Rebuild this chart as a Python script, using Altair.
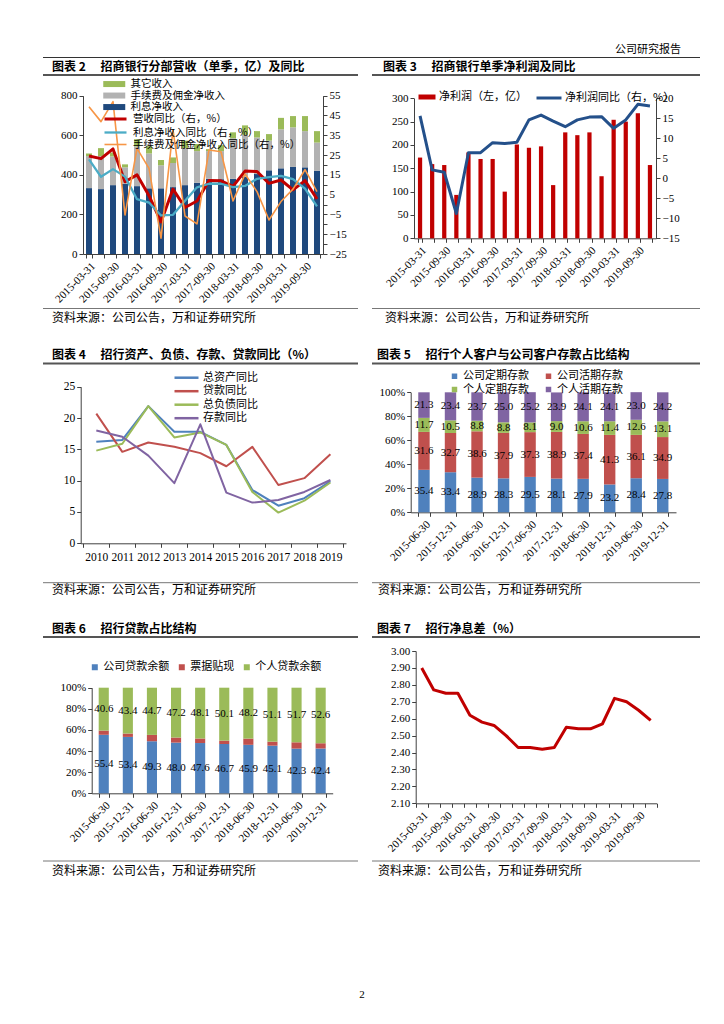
import altair as alt
import pandas as pd

W, H = 708, 1008
SERIF = "Liberation Serif, Noto Sans CJK SC"
CJK = "Noto Sans CJK SC, Liberation Serif"
AX = "#404040"

# ---------------- categories ----------------
quarters = ["2015-03-31", "2015-06-30", "2015-09-30", "2015-12-31",
            "2016-03-31", "2016-06-30", "2016-09-30", "2016-12-31",
            "2017-03-31", "2017-06-30", "2017-09-30", "2017-12-31",
            "2018-03-31", "2018-06-30", "2018-09-30", "2018-12-31",
            "2019-03-31", "2019-06-30", "2019-09-30", "2019-12-31"]
halfyears = ["2015-06-30", "2015-12-31", "2016-06-30", "2016-12-31", "2017-06-30",
             "2017-12-31", "2018-06-30", "2018-12-31", "2019-06-30", "2019-12-31"]
years = ["2010", "2011", "2012", "2013", "2014", "2015", "2016", "2017", "2018", "2019"]

# ---------------- chart 2 ----------------
interest = [333, 328, 348, 355, 343, 332, 332, 338, 348, 360, 380, 378, 380, 390, 404, 423, 433, 440, 438, 420]
fee = [162, 167, 145, 83, 200, 176, 116, 122, 187, 160, 140, 142, 205, 212, 185, 150, 197, 200, 183, 143]
other = [13, 40, 20, 15, 37, 37, 27, 28, 38, 36, 10, 30, 30, 48, 32, 33, 58, 57, 76, 58]
rev_yoy = [24.5, 23.2, 28.1, 11.5, 15.0, 4.5, -8.8, 7.8, -1.5, 1.8, 12.2, 12.0, 9.2, 16.9, 16.7, 10.7, 12.4, 7.4, 12.1, 2.8]
nii_yoy = [22.8, 14.0, 17.9, 14.1, 2.7, 1.0, -5.5, -5.2, 1.9, 8.7, 10.5, 10.5, 8.8, 9.4, 13.0, 13.8, 14.5, 12.8, 8.0, -0.9]
fee_yoy = [49.4, 41.9, 52.0, -5.3, 28.4, 18.3, -17.0, 37.7, -5.8, -9.8, 27.6, 26.7, 1.8, 15.4, 6.5, -7.8, 1.5, 7.8, 17.6, 6.5]
bar2_names = ["利息净收入", "手续费及佣金净收入", "其它收入"]
line2_names = ["营收同比（右，%）", "利息净收入同比（右，%）", "手续费及佣金净收入同比（右，%）"]

# ---------------- chart 3 ----------------
net_profit = [173, 159, 157, 93, 184, 170, 170, 100, 201, 194, 197, 114, 227, 221, 227, 133, 254, 250, 268, 157]
np_yoy = [15.6, 2.1, 1.5, -8.8, 6.4, 6.4, 8.9, 8.7, 9.0, 14.6, 15.8, 14.3, 12.9, 14.6, 15.3, 15.4, 12.5, 14.6, 18.5, 18.1]

# ---------------- chart 4 ----------------
asset_yoy = [16.2, 16.5, 21.9, 17.8, 17.8, 15.7, 8.5, 6.0, 7.2, 9.9]
loan_yoy = [20.7, 14.6, 16.1, 15.4, 14.4, 12.3, 15.4, 9.3, 10.4, 14.2]
liab_yoy = [14.8, 15.9, 21.9, 16.9, 17.7, 15.7, 8.2, 4.9, 6.8, 9.7]
dep_yoy = [18.0, 17.0, 14.0, 9.6, 19.0, 8.1, 6.5, 6.9, 8.2, 10.1]
line4_names = ["总资产同比", "贷款同比", "总负债同比", "存款同比"]

# ---------------- chart 5 ----------------
corp_time = [35.4, 33.4, 28.9, 28.3, 29.5, 28.1, 27.9, 23.2, 28.4, 27.8]
corp_demand = [31.6, 32.7, 38.6, 37.9, 37.3, 38.9, 37.4, 41.3, 36.1, 34.9]
pers_time = [11.7, 10.5, 8.8, 8.8, 8.1, 9.0, 10.6, 11.4, 12.6, 13.1]
pers_demand = [21.3, 23.4, 23.7, 25.0, 25.2, 23.9, 24.1, 24.1, 23.0, 24.2]
dep_names = ["公司定期存款", "公司活期存款", "个人定期存款", "个人活期存款"]
dep_colors = {"公司定期存款": "#4F81BD", "公司活期存款": "#C0504D",
              "个人定期存款": "#9BBB59", "个人活期存款": "#8064A2"}
dep_legend_order = ["公司定期存款", "个人定期存款", "公司活期存款", "个人活期存款"]

# ---------------- chart 6 ----------------
corp_loan = [55.4, 53.4, 49.3, 48.0, 47.6, 46.7, 45.9, 45.1, 42.3, 42.4]
bill_disc = [4.0, 3.2, 6.0, 4.8, 4.3, 3.2, 5.9, 3.8, 6.0, 5.0]
pers_loan = [40.6, 43.4, 44.7, 47.2, 48.1, 50.1, 48.2, 51.1, 51.7, 52.6]
loan_names = ["公司贷款余额", "票据贴现", "个人贷款余额"]

# ---------------- chart 7 ----------------
nim = [2.90, 2.77, 2.75, 2.75, 2.62, 2.58, 2.56, 2.50, 2.43, 2.43,
       2.42, 2.43, 2.55, 2.54, 2.54, 2.57, 2.72, 2.70, 2.65, 2.59]


# ---------------- helpers ----------------
def long_df(cats, names, series_list):
    rows = []
    for k, (n, vals) in enumerate(zip(names, series_list)):
        for c, v in zip(cats, vals):
            rows.append({"cat": c, "series": n, "value": v, "k": k})
    return pd.DataFrame(rows)


def stacked_mid(df):
    df = df.sort_values(["cat", "k"]).copy()
    df["end"] = df.groupby("cat")["value"].cumsum()
    df["mid"] = df["end"] - df["value"] / 2
    return df


def bottom_axis(y, angle=-45, expr=None, size=11, pad=2):
    kw = dict(orient="bottom", offset=y - H, labelAngle=angle, tickBand="extent",
              title=None, labelOverlap=False, labelFontSize=size, labelPadding=pad)
    if expr:
        kw["labelExpr"] = expr
    return alt.Axis(**kw)


def left_axis(x, values, expr=None, size=11, fmt=None):
    kw = dict(orient="left", offset=-x, values=values, title=None, labelFontSize=size)
    if expr:
        kw["labelExpr"] = expr
    if fmt:
        kw["format"] = fmt
    return alt.Axis(**kw)


def right_axis(x, values, size=11):
    return alt.Axis(orient="right", offset=x - W, values=values, title=None, labelFontSize=size)


ONE = alt.Data(values=[{}])


def hrule(x1, x2, y, color="#555555", w=1.0):
    return alt.Chart(ONE).mark_rule(color=color, strokeWidth=w).encode(
        x=alt.value(x1), x2=alt.value(x2), y=alt.value(y))


def label(t, x, y, size=12, weight="normal", align="left", font=CJK):
    return alt.Chart(ONE).mark_text(text=t, align=align, baseline="middle", fontSize=size,
                                    fontWeight=weight, font=font, color="#000000").encode(
        x=alt.value(x), y=alt.value(y))


def rect_sym(w, h, r=5):
    # wide legend swatch: starts at left edge of a 2r symbol cell
    return f"M-1,{-h / (2 * r):.3f}H{(w / r) - 1:.3f}V{h / (2 * r):.3f}H-1Z"


def line_sym(w, r=5):
    return f"M-1,0H{(w / r) - 1:.3f}"


q_expr = "indexof(['03-31','09-30'], substring(datum.value, 5, 10)) >= 0 ? datum.label : ''"

layers = []

# ---------------- page decorations ----------------
layers.append(label("公司研究报告", 673, 42, size=11, align="right"))
layers.append(hrule(35, 692, 49.5, "#333333", 1.2))
GAP = "\u3000 "
titles = [("图表 2" + GAP + "招商银行分部营收（单季，亿）及同比", 44, 59),
          ("图表 3" + GAP + "招商银行单季净利润及同比", 375, 59),
          ("图表 4" + GAP + "招行资产、负债、存款、贷款同比（%）", 44, 347),
          ("图表 5" + GAP + "招行个人客户与公司客户存款占比结构", 369, 347),
          ("图表 6" + GAP + "招行贷款占比结构", 44, 621),
          ("图表 7" + GAP + "招行净息差（%）", 369, 621)]
for t, x, y in titles:
    layers.append(label(t, x, y, size=12, weight="bold"))
for y in [67, 355.5, 629]:
    layers.append(hrule(35, 350, y, "#555555", 1.8))
    layers.append(hrule(364, 692, y, "#555555", 1.8))
for y in [300.5, 574.7, 853]:
    layers.append(hrule(35, 350, y, "#777777", 1.0))
    layers.append(hrule(364, 692, y, "#777777", 1.0))
src = "资料来源：公司公告，万和证券研究所"
for x, y in [(44, 310), (377, 310), (44, 582), (370, 582), (44, 863), (370, 863)]:
    layers.append(label(src, x, y, size=12))
layers.append(label("2", 354, 987, size=11, align="center", font=SERIF))

# ---------------- chart 2 ----------------
df2b = long_df(quarters, bar2_names, [interest, fee, other])
df2l = long_df(quarters, line2_names, [rev_yoy, nii_yoy, fee_yoy])
x2 = alt.Scale(domain=quarters, range=[75, 315], paddingInner=0.5, paddingOuter=0.25)
layers.append(alt.Chart(df2b).mark_bar().encode(
    x=alt.X("cat:N", scale=x2, axis=bottom_axis(246, expr=q_expr)),
    y=alt.Y("value:Q", stack="zero",
            scale=alt.Scale(domain=[0, 800], range=[246, 87.7], nice=False),
            axis=left_axis(75, [0, 200, 400, 600, 800])),
    color=alt.Color("series:N",
                    scale=alt.Scale(domain=["其它收入", "手续费及佣金净收入", "利息净收入"],
                                    range=["#9BBB59", "#B2B2B2", "#1F497D"]),
                    legend=alt.Legend(orient="none", legendX=95, legendY=70.8, title=None,
                                      symbolType=rect_sym(22, 6), symbolSize=100, symbolStrokeWidth=0,
                                      labelFontSize=10.5, rowPadding=0.5, labelOffset=17,
                                      labelLimit=300)),
    order=alt.Order("k:Q")))
layers.append(alt.Chart(df2l).mark_line(strokeJoin="round").encode(
    x=alt.X("cat:N", scale=x2, axis=None),
    y=alt.Y("value:Q", scale=alt.Scale(domain=[-25, 55], range=[246, 87.7], nice=False, zero=False),
            axis=right_axis(315, list(range(-25, 56, 5)))),
    color=alt.Color("series:N",
                    scale=alt.Scale(domain=line2_names, range=["#C00000", "#4BACC6", "#F79646"]),
                    legend=alt.Legend(orient="none", legendX=95, legendY=104.5, title=None,
                                      symbolType=line_sym(22), symbolSize=100, symbolStrokeWidth=2.5,
                                      labelFontSize=10.5, rowPadding=0.5, labelOffset=17,
                                      labelLimit=300)),
    strokeWidth=alt.StrokeWidth("series:N",
                                scale=alt.Scale(domain=line2_names, range=[3, 1.6, 2.2]),
                                legend=None)))

# ---------------- chart 3 ----------------
df3b = pd.DataFrame({"cat": quarters, "value": net_profit, "series": "净利润（左，亿）"})
df3l = pd.DataFrame({"cat": quarters, "value": np_yoy, "series": "净利润同比（右，%）"})
x3 = alt.Scale(domain=quarters, range=[406, 648], paddingInner=0.65, paddingOuter=0.325)
layers.append(alt.Chart(df3b).mark_bar().encode(
    x=alt.X("cat:N", scale=x3, axis=bottom_axis(230.3, expr=q_expr)),
    y=alt.Y("value:Q", scale=alt.Scale(domain=[0, 300], range=[230.3, 90.3], nice=False),
            axis=left_axis(406, [0, 50, 100, 150, 200, 250, 300])),
    color=alt.Color("series:N", scale=alt.Scale(domain=["净利润（左，亿）"], range=["#C00000"]),
                    legend=alt.Legend(orient="none", legendX=410, legendY=83.5, title=None,
                                      symbolType=rect_sym(17, 5), symbolSize=100,
                                      symbolStrokeWidth=0, labelFontSize=11, labelOffset=10,
                                      labelLimit=300))))
layers.append(alt.Chart(df3l).mark_line(strokeWidth=3, strokeJoin="round").encode(
    x=alt.X("cat:N", scale=x3, axis=None),
    y=alt.Y("value:Q", scale=alt.Scale(domain=[-15, 20], range=[230.3, 90.3], nice=False, zero=False),
            axis=right_axis(648, list(range(-15, 21, 5)))),
    color=alt.Color("series:N", scale=alt.Scale(domain=["净利润同比（右，%）"], range=["#24508A"]),
                    legend=alt.Legend(orient="none", legendX=527, legendY=83.5, title=None,
                                      symbolType=line_sym(25), symbolSize=100, symbolStrokeWidth=3,
                                      labelFontSize=11, labelOffset=17, labelLimit=300))))

# ---------------- chart 4 ----------------
df4 = long_df(years, line4_names, [asset_yoy, loan_yoy, liab_yoy, dep_yoy])
x4 = alt.Scale(domain=years, range=[72.7, 338], paddingInner=0, paddingOuter=0.1)
layers.append(alt.Chart(df4).mark_line(strokeWidth=2, strokeJoin="round").encode(
    x=alt.X("cat:N", scale=x4, axis=bottom_axis(535.3, angle=0, size=11.5, pad=4)),
    y=alt.Y("value:Q", scale=alt.Scale(domain=[0, 25], range=[535.3, 378.7], nice=False),
            axis=left_axis(72.7, [0, 5, 10, 15, 20, 25], size=11.5)),
    color=alt.Color("series:N",
                    scale=alt.Scale(domain=line4_names,
                                    range=["#4F81BD", "#C0504D", "#9BBB59", "#8064A2"]),
                    legend=alt.Legend(orient="none", legendX=165, legendY=363.2, title=None,
                                      symbolType=line_sym(24), symbolSize=100, symbolStrokeWidth=2.5,
                                      labelFontSize=11, rowPadding=1.5, labelOffset=17)),
    order=alt.Order("k:Q")))

# ---------------- chart 5 ----------------
df5 = stacked_mid(long_df(halfyears, dep_names, [corp_time, corp_demand, pers_time, pers_demand]))
x5 = alt.Scale(domain=halfyears, range=[402.7, 668], paddingInner=0.57, paddingOuter=0.285)
y5 = alt.Scale(domain=[0, 100], range=[504.3, 384.3], nice=False)
layers.append(alt.Chart(df5).mark_bar().encode(
    x=alt.X("cat:N", scale=x5, axis=bottom_axis(504.3)),
    y=alt.Y("value:Q", stack="zero", scale=y5,
            axis=left_axis(402.7, [0, 20, 40, 60, 80, 100], expr="datum.value + '%'")),
    color=alt.Color("series:N",
                    scale=alt.Scale(domain=dep_legend_order,
                                    range=[dep_colors[n] for n in dep_legend_order]),
                    legend=alt.Legend(orient="none", legendX=441, legendY=362.5, title=None,
                                      columns=2, columnPadding=14, symbolType="square",
                                      symbolSize=30, symbolStrokeWidth=0, labelFontSize=11,
                                      rowPadding=1.5, labelOffset=3)),
    order=alt.Order("k:Q")))
layers.append(alt.Chart(df5).mark_text(font=SERIF, fontSize=11, color="#000000").encode(
    x=alt.X("cat:N", scale=x5, axis=None),
    y=alt.Y("mid:Q", scale=y5, axis=None),
    text=alt.Text("value:Q", format=".1f")))

# ---------------- chart 6 ----------------
df6 = stacked_mid(long_df(halfyears, loan_names, [corp_loan, bill_disc, pers_loan]))
x6 = alt.Scale(domain=halfyears, range=[83.7, 324.7], paddingInner=0.58, paddingOuter=0.29)
y6 = alt.Scale(domain=[0, 100], range=[785.3, 679.7], nice=False)
layers.append(alt.Chart(df6).mark_bar().encode(
    x=alt.X("cat:N", scale=x6, axis=bottom_axis(785.3)),
    y=alt.Y("value:Q", stack="zero", scale=y6,
            axis=left_axis(83.7, [0, 20, 40, 60, 80, 100], expr="datum.value + '%'")),
    color=alt.Color("series:N",
                    scale=alt.Scale(domain=loan_names, range=["#4F81BD", "#C0504D", "#9BBB59"]),
                    legend=alt.Legend(orient="none", legendX=81.3, legendY=653.5, title=None,
                                      direction="horizontal", columnPadding=7,
                                      symbolType="square", symbolSize=36, symbolStrokeWidth=0,
                                      labelFontSize=11, labelOffset=3)),
    order=alt.Order("k:Q")))
layers.append(alt.Chart(df6).transform_filter("datum.k != 1").mark_text(
    font=SERIF, fontSize=11, color="#000000").encode(
    x=alt.X("cat:N", scale=x6, axis=None),
    y=alt.Y("mid:Q", scale=y6, axis=None),
    text=alt.Text("value:Q", format=".1f")))

# ---------------- chart 7 ----------------
df7 = pd.DataFrame({"cat": quarters, "value": nim})
layers.append(alt.Chart(df7).mark_line(color="#C00000", strokeWidth=3, strokeJoin="round").encode(
    x=alt.X("cat:N", scale=alt.Scale(domain=quarters, range=[407.7, 648.7], paddingInner=0, paddingOuter=0),
            axis=bottom_axis(795.3, expr=q_expr)),
    y=alt.Y("value:Q", scale=alt.Scale(domain=[2.1, 3.0], range=[795.3, 643], nice=False, zero=False),
            axis=left_axis(407.7, [2.1, 2.2, 2.3, 2.4, 2.5, 2.6, 2.7, 2.8, 2.9, 3.0], fmt=".2f"))))

chart = alt.layer(*layers).properties(
    width=W, height=H, padding=0, autosize=alt.AutoSizeParams(type="none")
).resolve_scale(
    x="independent", y="independent", color="independent", strokeWidth="independent"
).resolve_axis(
    x="independent", y="independent"
).resolve_legend(
    color="independent", strokeWidth="independent"
).configure_view(stroke=None).configure_axis(
    grid=False, labelFont=SERIF, labelFontSize=11, labelColor="#000000",
    domainColor=AX, tickColor=AX, tickSize=4, labelPadding=2, domainWidth=1
).configure_legend(
    labelFont=CJK, labelFontSize=11, labelColor="#000000", padding=0
)

chart.save("out.html", embed_options={"renderer": "svg", "actions": False})
